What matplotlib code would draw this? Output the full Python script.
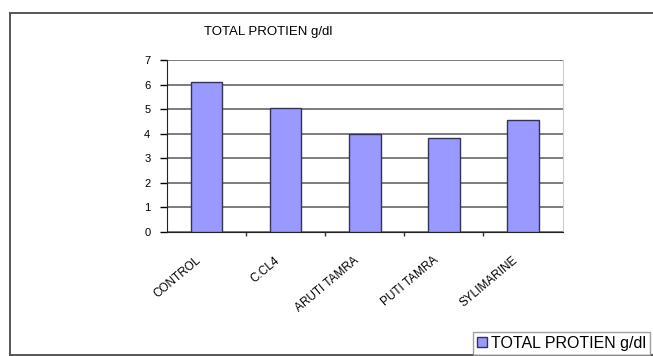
import numpy as np
import matplotlib.pyplot as plt
from matplotlib.lines import Line2D
from matplotlib.transforms import ScaledTranslation

plt.rcParams["font.family"] = ["Liberation Sans", "DejaVu Sans"]

groups = ["CONTROL", "C.CL4", "ARUTI TAMRA", "PUTI TAMRA", "SYLIMARINE"]
total_protein = [6.12, 5.03, 3.98, 3.84, 4.56]
y_ticks = [0, 1, 2, 3, 4, 5, 6, 7]
title = "TOTAL PROTIEN g/dl"

W, H = 653, 356
fig = plt.figure(figsize=(W / 100, H / 100), dpi=100)

# chart-area border: left, top and bottom edges (the right side runs off the page)
x0, y_top, y_bot = 10 / W, 1 - 13 / H, 1 - 354.5 / H
for xs, ys in [([x0, x0], [y_bot, y_top]), ([x0, 1.05], [y_top, y_top]),
               ([x0, 1.05], [y_bot, y_bot])]:
    fig.add_artist(Line2D(xs, ys, transform=fig.transFigure,
                          color="#555555", linewidth=1.4))

ax = fig.add_axes([167 / W, 1 - 232 / H, (562.5 - 167) / W, (232 - 60) / H])
x = np.arange(len(groups))
ax.bar(x, total_protein, width=0.4, color="#9999FF", edgecolor="#333355",
       linewidth=1.0, label=title, zorder=3)

ax.set_xlim(-0.5, len(groups) - 0.5)
ax.set_ylim(0, 7)
ax.set_yticks(y_ticks)
ax.tick_params(axis="y", labelsize=8, length=5, width=1, direction="out", pad=7)
ax.yaxis.grid(True, color="#666666", linewidth=1.2, zorder=1)

# category labels hang below the bars, ticks sit between categories
ax.set_xticks(x)
ax.set_xticklabels(groups, rotation=40, ha="right", va="top",
                   rotation_mode="anchor", fontsize=8.5)
ax.tick_params(axis="x", length=0, pad=16)
shift = ScaledTranslation(-11 / 100, 0, fig.dpi_scale_trans)
for lbl in ax.get_xticklabels():
    lbl.set_transform(lbl.get_transform() + shift)
ax.set_xticks(np.arange(0.5, len(groups) - 0.5, 1), minor=True)
ax.tick_params(axis="x", which="minor", length=3, width=1, color="#333333")

ax.spines["top"].set_visible(False)
ax.spines["right"].set_color("#cccccc")
ax.spines["left"].set_color("#222222")
ax.spines["bottom"].set_color("#222222")

fig.text(268 / W, 1 - 32 / H, title, ha="center", va="center", fontsize=9.5)

leg = fig.legend(loc="upper left", bbox_to_anchor=(473 / W, 1 - 332 / H),
                 fontsize=11.5, frameon=True, fancybox=False, borderaxespad=0,
                 handlelength=0.6, handleheight=0.6, handletextpad=0.3,
                 borderpad=0.25)
leg.get_frame().set_edgecolor("#888888")
leg.get_frame().set_linewidth(1.0)

fig.savefig("out.png", dpi=100)
